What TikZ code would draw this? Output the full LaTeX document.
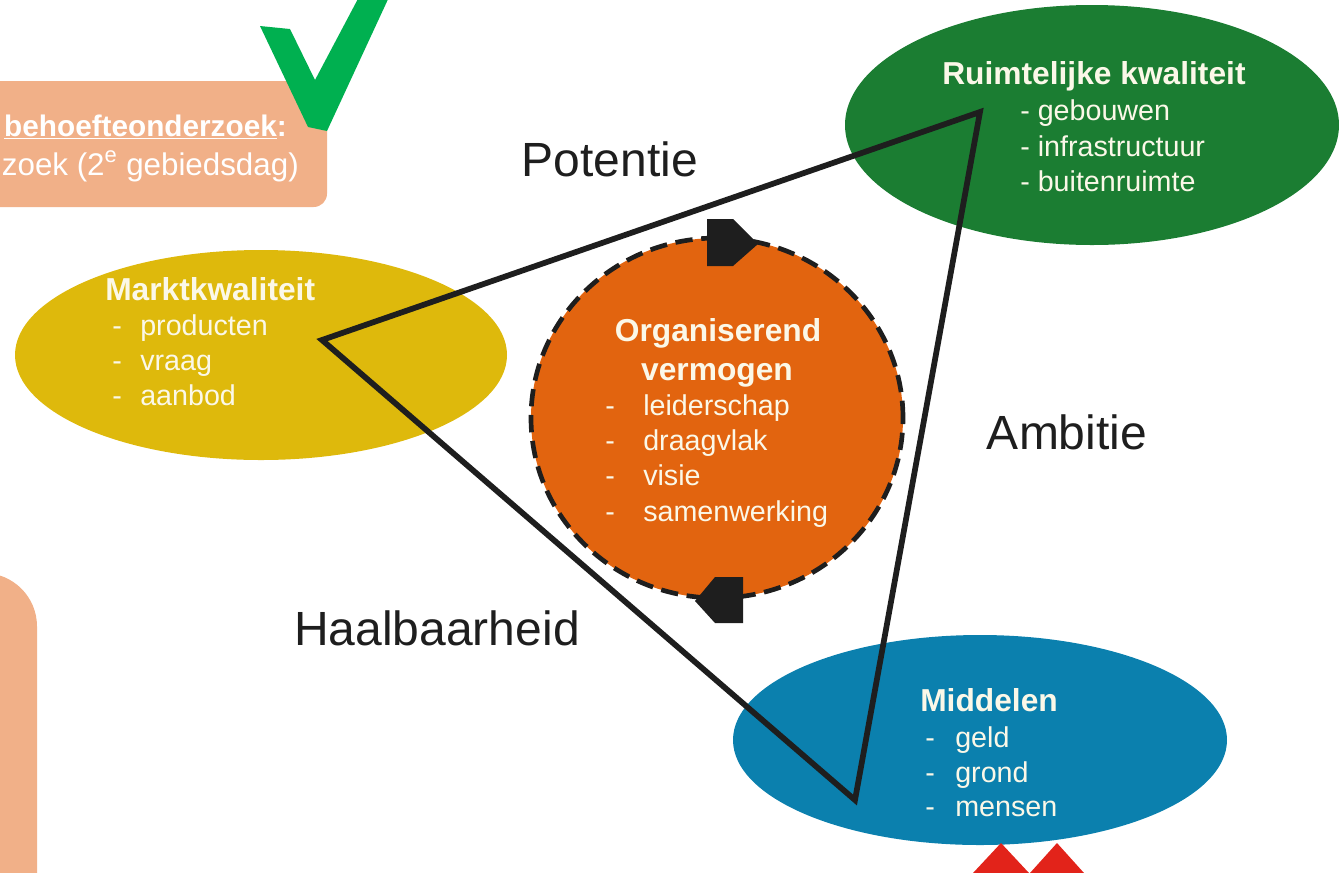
\documentclass[tikz,border=0pt]{standalone}
\usepackage{fontspec}
\setmainfont{Liberation Sans}
\usetikzlibrary{shapes.geometric}
\definecolor{boxor}{HTML}{F1B088}
\definecolor{chk}{HTML}{00B050}
\definecolor{ygold}{HTML}{DEB90C}
\definecolor{rgreen}{HTML}{1B7D32}
\definecolor{mblue}{HTML}{0B80AE}
\definecolor{corange}{HTML}{E2640F}
\definecolor{redm}{HTML}{E2231A}
\definecolor{txt}{HTML}{FBF8E8}
\definecolor{ink}{HTML}{1E1E1E}
\tikzset{
  hdr/.style={anchor=base west, inner sep=0pt, text=txt, font=\fontsize{23.8}{27}\selectfont\bfseries},
  itm/.style={anchor=base west, inner sep=0pt, text=txt, font=\fontsize{21.5}{25}\selectfont},
  lbl/.style={anchor=base, inner sep=0pt, text=ink, font=\fontsize{36}{40}\selectfont},
  boxtxt/.style={anchor=base east, inner sep=0pt, text=white, font=\fontsize{23.5}{27}\selectfont},
  tri/.style={draw=ink, line width=4.3pt, line join=miter},
  blob/.style={draw=none}
}
\begin{document}
\begin{tikzpicture}[x=0.75pt,y=-0.75pt]
\useasboundingbox (0,0) rectangle (1339,872);
\clip (0,0) rectangle (1339,872);
% top-left box
\fill[boxor, rounded corners=10pt] (-60,81) rectangle (327,207);
\node[boxtxt, font=\fontsize{22.3}{27}\selectfont] (b1) at (287,136) {\bfseries\underline{behoefteonderzoek}:};
\node[boxtxt] (b2) at (299,175) {zoek (2\textsuperscript{e} gebiedsdag)};
% check mark
\fill[chk] (260,26) -- (290,29) -- (315,80) -- (360,-5) -- (390,-5) -- (327,131) -- (308,127) -- cycle;
% bottom-left box
\fill[boxor, rounded corners=40pt] (-120,573) rectangle (37,940);
% ellipses
\node[blob, ellipse, fill=ygold, minimum width=492*0.75pt, minimum height=210*0.75pt] (mk) at (261,355) {};
\node[blob, ellipse, fill=rgreen, minimum width=494*0.75pt, minimum height=240*0.75pt] (rk) at (1092,125) {};
\node[blob, ellipse, fill=mblue, minimum width=494*0.75pt, minimum height=210*0.75pt] (md) at (980,740) {};
\node[ellipse, fill=corange, draw=ink, line width=3.5pt, dash pattern=on 13pt off 6.5pt, minimum width=372*0.75pt, minimum height=360*0.75pt] (ov) at (717,418) {};
% circulation arrows
\fill[ink] (707,219) -- (733,219) -- (758,244) -- (733,266) -- (707,266) -- cycle;
\fill[ink] (743,577) -- (715,577) -- (695,601) -- (715,623) -- (743,623) -- cycle;
% triangle
\coordinate (va) at (322,340);
\coordinate (vb) at (980,112);
\coordinate (vc) at (855,800);
\draw[tri] (va) -- (vb) -- (vc) -- cycle;
% Marktkwaliteit
\node[hdr] (mkh) at (105,300) {Marktkwaliteit};
\foreach \t [count=\i] in {producten,vraag,aanbod}{
  \node[itm] (mkd\i) at (112,300+35*\i) {-};
  \node[itm] (mkw\i) at (140,300+35*\i) {\t};
}
% Ruimtelijke kwaliteit
\node[hdr] (rkh) at (942,84) {Ruimtelijke kwaliteit};
\node[itm] (rk1) at (1020,120) {- gebouwen};
\node[itm] (rk2) at (1020,156) {- infrastructuur};
\node[itm] (rk3) at (1020,191) {- buitenruimte};
% Organiserend vermogen
\node[hdr, anchor=base] (ovh1) at (718,341) {Organiserend};
\node[hdr, anchor=base] (ovh2) at (717,380) {vermogen};
\foreach \t/\y [count=\i] in {leiderschap/415,draagvlak/450,visie/485,samenwerking/521}{
  \node[itm] (ovd\i) at (605,\y) {-};
  \node[itm] (ovw\i) at (643,\y) {\t};
}
% Middelen
\node[hdr] (mdh) at (920,711) {Middelen};
\foreach \t/\y [count=\i] in {geld/747,grond/782,mensen/816}{
  \node[itm] (mdd\i) at (925,\y) {-};
  \node[itm] (mdw\i) at (955,\y) {\t};
}
% labels
\node[lbl] (pot) at (610,176) {Potentie};
\node[lbl] (amb) at (1067,449) {Ambitie};
\node[lbl] (haa) at (437,645) {Haalbaarheid};
% red marks
\fill[redm] (973,873) -- (1001,843) -- (1029,873) -- cycle;
\fill[redm] (1030,873) -- (1057,843) -- (1084,873) -- cycle;
\end{tikzpicture}
\end{document}
